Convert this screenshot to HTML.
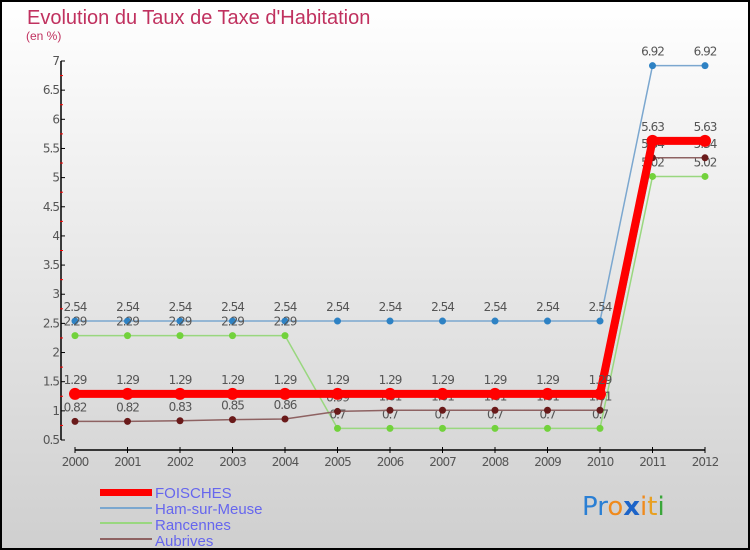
<!DOCTYPE html>
<html><head><meta charset="utf-8"><style>
body{margin:0;}
#wrap{position:relative;width:750px;height:550px;overflow:hidden;}
svg{display:block;font-family:"DejaVu Sans","Liberation Sans",sans-serif;}
</style></head><body>
<div id="wrap">
<svg id="chart" width="750" height="550">
<defs><linearGradient id="bg" x1="0" y1="0" x2="0" y2="1"><stop offset="0" stop-color="#ffffff"/><stop offset="1" stop-color="#cfcfcf"/></linearGradient></defs>
<rect x="1" y="1" width="748" height="548" fill="url(#bg)" stroke="#000" stroke-width="2"/>
<text x="27" y="24" font-size="20" fill="#c0315f" font-family="Liberation Sans, sans-serif">Evolution du Taux de Taxe d'Habitation</text>
<text x="26" y="40" font-size="12" fill="#c0315f" font-family="Liberation Sans, sans-serif">(en %)</text>
<g id="axes"></g><g id="series"></g>
<g>
<rect x="100" y="489" width="52" height="7" fill="#f00"/>
<text x="155" y="498" font-size="15" fill="#6666ee" font-family="Liberation Sans, sans-serif">FOISCHES</text>
<rect x="100" y="507" width="52" height="2" fill="#7ba7cf"/>
<text x="155" y="514" font-size="15" fill="#6666ee" font-family="Liberation Sans, sans-serif">Ham-sur-Meuse</text>
<rect x="100" y="522" width="52" height="2" fill="#99d77f"/>
<text x="155" y="530" font-size="15" fill="#6666ee" font-family="Liberation Sans, sans-serif">Rancennes</text>
<rect x="100" y="538" width="52" height="2" fill="#8e6262"/>
<text x="155" y="546" font-size="15" fill="#6666ee" font-family="Liberation Sans, sans-serif">Aubrives</text>
</g>
<g font-size="26" font-family="DejaVu Sans, sans-serif">
<text x="582" y="515"><tspan fill="#2a7fd4">Pr</tspan><tspan fill="#f08a1c">o</tspan><tspan fill="#1d64c8" font-weight="bold">x</tspan><tspan fill="#f08a1c">i</tspan><tspan fill="#e8a020">t</tspan><tspan fill="#3aa63a">i</tspan></text>
</g>
</svg></div>
<script>
const years=[2000,2001,2002,2003,2004,2005,2006,2007,2008,2009,2010,2011,2012];
const foisches=[1.29,1.29,1.29,1.29,1.29,1.29,1.29,1.29,1.29,1.29,1.29,5.63,5.63];
const ham=[2.54,2.54,2.54,2.54,2.54,2.54,2.54,2.54,2.54,2.54,2.54,6.92,6.92];
const rancennes=[2.29,2.29,2.29,2.29,2.29,0.7,0.7,0.7,0.7,0.7,0.7,5.02,5.02];
const aubrives=[0.82,0.82,0.83,0.85,0.86,0.99,1.01,1.01,1.01,1.01,1.01,5.34,5.34];
const yTicks=[0.5,1,1.5,2,2.5,3,3.5,4,4.5,5,5.5,6,6.5,7];
const NS="http://www.w3.org/2000/svg";
function xs(i){return 75+(i)*(630/(years.length-1));}
function ys(v){return 440-(v-0.5)*(379/6.5);}
function mk(tag,attrs,parent){const e=document.createElementNS(NS,tag);for(const k in attrs)e.setAttribute(k,attrs[k]);parent.appendChild(e);return e;}
const axes=document.getElementById('axes');
let ax=mk('line',{x1:61,y1:ys(7),x2:61,y2:ys(0.5),stroke:'#000','stroke-width':1.5},axes);


let bx=mk('line',{x1:75,y1:450,x2:705,y2:450,stroke:'#000','stroke-width':1.5},axes);


yTicks.forEach(t=>{
 mk('line',{x1:61,y1:ys(t),x2:65,y2:ys(t),stroke:'#000'},axes);
 if(t<7)mk('line',{x1:60,y1:ys(t+0.25),x2:63,y2:ys(t+0.25),stroke:'#f00'},axes);
 const tx=mk('text',{x:59,y:ys(t)+4,'font-size':12,fill:'#555','text-anchor':'end','letter-spacing':'-1'},axes);
 tx.textContent=String(t);
 
 
});
years.forEach((y,i)=>{
 mk('line',{x1:xs(i),y1:447,x2:xs(i),y2:453,stroke:'#000'},axes);
 const tx=mk('text',{x:xs(i),y:466,'font-size':12,fill:'#555','text-anchor':'middle','letter-spacing':'-1'},axes);
 tx.textContent=String(y);
 
 
});
const sg=document.getElementById('series');
function draw(vals,color,dot,lw,name,dotColor){
 const g=mk('g',{},sg);
 
 
 mk('polyline',{points:vals.map((v,i)=>xs(i)+','+ys(v)).join(' '),fill:'none',stroke:color,'stroke-width':lw,'stroke-linejoin':'round'},g);
 vals.forEach((v,i)=>{
  const c=mk('circle',{cx:xs(i),cy:ys(v),r:dot,fill:dotColor},g);
  
  
  const t=mk('text',{x:xs(i),y:ys(v)-10,'font-size':12,fill:'#555','text-anchor':'middle','letter-spacing':'-1'},g);
  t.textContent=String(v);
  
  
 });
}
draw(ham,'#7ba7cf',3.5,1.5,'ham-sur-meuse','#2e82c4');
draw(rancennes,'#99d77f',3.5,1.5,'rancennes','#72d23c');
draw(aubrives,'#8e6262',3.5,1.5,'aubrives','#6a1a1a');
draw(foisches,'#f00',6,8,'foisches','#f00');
</script>
</body></html>
